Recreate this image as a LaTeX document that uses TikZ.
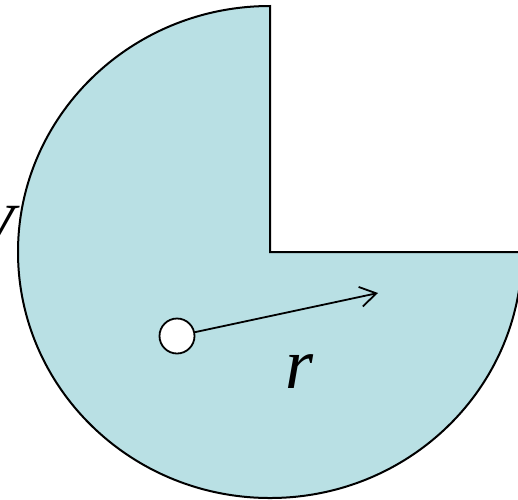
\documentclass[tikz,border=0pt]{standalone}
\usepackage{fontspec}
\setmainfont{Liberation Serif}
\usetikzlibrary{arrows.meta}
\definecolor{sectorfill}{RGB}{185,224,228}
\begin{document}
\begin{tikzpicture}[x=1pt,y=-1pt]
  \useasboundingbox (0,0) rectangle (518,499);
  % Sector
  \draw[line width=2pt,fill=sectorfill] (270,252) -- (270,6)
    arc[start angle=270,end angle=0,x radius=252,y radius=246] -- cycle;
  % Hole and radius
  \node[draw,line width=1.8pt,fill=white,circle,minimum size=35pt,inner sep=0pt] (hole) at (177,336) {};
  \coordinate (tip) at (378,293);
  \draw[line width=1.8pt,-{Straight Barb[length=16pt,width=20pt,line width=1.8pt]}] (hole) -- (tip);
  \node (rlabel) at (300,372) {\fontsize{72}{76}\selectfont\itshape r};
  \node (vlabel) at (-6,228) {\fontsize{66}{70}\selectfont\itshape V};
\end{tikzpicture}
\end{document}
